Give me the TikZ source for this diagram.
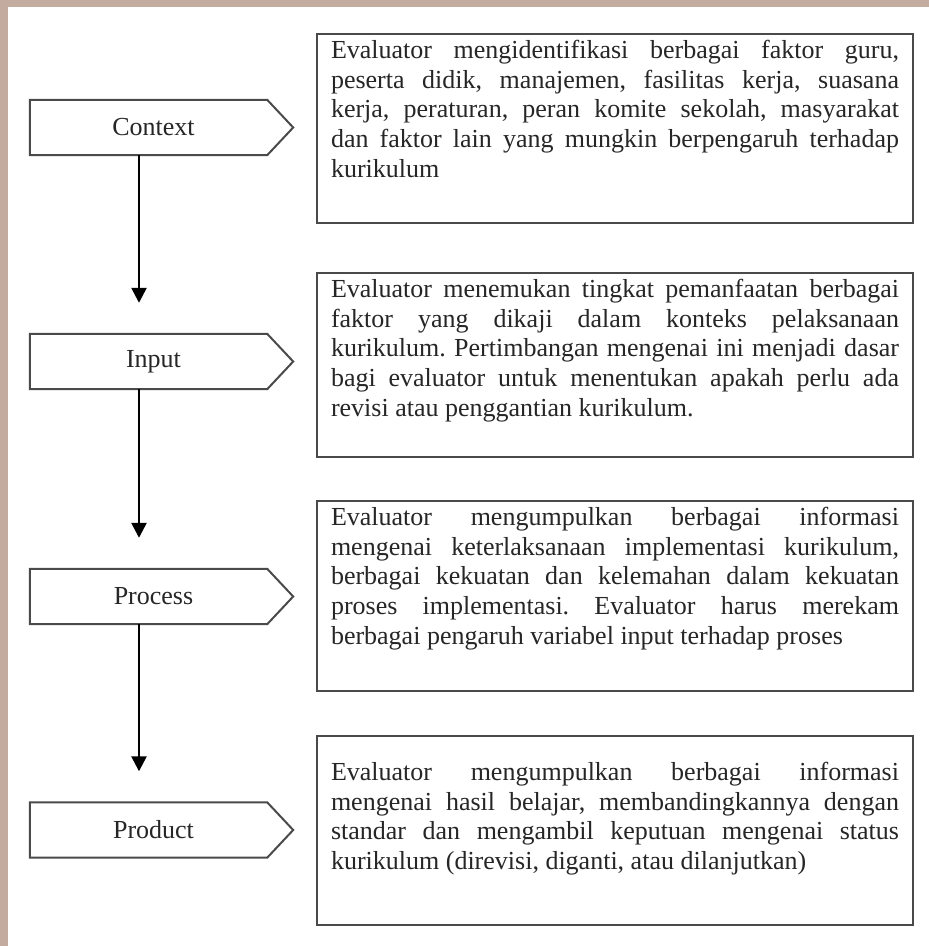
\documentclass[tikz,border=0pt]{standalone}
\usepackage{fontspec}
\setmainfont{Liberation Serif}
\usetikzlibrary{arrows.meta}

\definecolor{framebrown}{HTML}{C4ABA0}
\definecolor{inkgray}{HTML}{262626}
\definecolor{rulegray}{HTML}{4A4A4A}

% fixed-height, top-aligned, justified text block for the description boxes
\newcommand{\descblock}[2]{%
  \begin{minipage}[t][#1][t]{568pt}%
    \frenchspacing\hyphenpenalty=10000\relax #2%
  \end{minipage}}

\begin{document}
\begin{tikzpicture}[x=1pt,y=-1pt,
  stage/.style={minimum width=247pt, minimum height=55pt, inner sep=0pt,
    text=inkgray, font=\fontsize{26pt}{29.7pt}\selectfont},
  signpost/.style={draw=rulegray, line width=2pt, line join=miter},
  desc/.style={draw=rulegray, line width=2pt, anchor=north west,
    inner xsep=14pt, inner ysep=6pt, text=inkgray,
    font=\fontsize{26pt}{29.7pt}\selectfont},
  flow/.style={draw=black, line width=2.5pt,
    -{Triangle[width=15pt,length=15pt]}}]

% page frame
\fill[framebrown] (0,0) rectangle (929,946);
\fill[white] (8,7) rectangle (929,946);
\useasboundingbox (0,0) rectangle (929,946);

% CIPP stages
\node[stage] (ctx) at (153.5,127.5) {Context};
\node[stage] (inp) at (153.5,361.5) {Input};
\node[stage] (prc) at (153.5,596.5) {Process};
\node[stage] (prd) at (153.5,830) {Product};

\foreach \s in {ctx,inp,prc,prd}
  \draw[signpost] (\s.north west) -- ([xshift=-10pt]\s.north east)
    -- ([xshift=16pt]\s.east) -- ([xshift=-10pt]\s.south east)
    -- (\s.south west) -- cycle;

% flow between stages
\draw[flow] ([xshift=-14.5pt]ctx.south) -- ([xshift=-14.5pt,yshift=31pt]inp.north);
\draw[flow] ([xshift=-14.5pt]inp.south) -- ([xshift=-14.5pt,yshift=31pt]prc.north);
\draw[flow] ([xshift=-14.5pt]prc.south) -- ([xshift=-14.5pt,yshift=31pt]prd.north);

% descriptions
\node[desc] (d1) at (316,33) {\descblock{177pt}{Evaluator mengidentifikasi berbagai faktor guru,\linebreak
peserta didik, manajemen, fasilitas kerja, suasana\linebreak
kerja, peraturan, peran komite sekolah, masyarakat\linebreak
dan faktor lain yang mungkin berpengaruh terhadap\linebreak
kurikulum}};

\node[desc] (d2) at (316,272) {\descblock{172pt}{Evaluator menemukan tingkat pemanfaatan berbagai\linebreak
faktor yang dikaji dalam konteks pelaksanaan\linebreak
kurikulum. Pertimbangan mengenai ini menjadi dasar\linebreak
bagi evaluator untuk menentukan apakah perlu ada\linebreak
revisi atau penggantian kurikulum.}};

\node[desc] (d3) at (316,500) {\descblock{178pt}{Evaluator mengumpulkan berbagai informasi\linebreak
mengenai keterlaksanaan implementasi kurikulum,\linebreak
berbagai kekuatan dan kelemahan dalam kekuatan\linebreak
proses implementasi. Evaluator harus merekam\linebreak
berbagai pengaruh variabel input terhadap proses}};

\node[desc] (d4) at (316,735) {\descblock{177pt}{\vspace*{20pt}Evaluator mengumpulkan berbagai informasi\linebreak
mengenai hasil belajar, membandingkannya dengan\linebreak
standar dan mengambil keputuan mengenai status\linebreak
kurikulum (direvisi, diganti, atau dilanjutkan)}};

\end{tikzpicture}
\end{document}
